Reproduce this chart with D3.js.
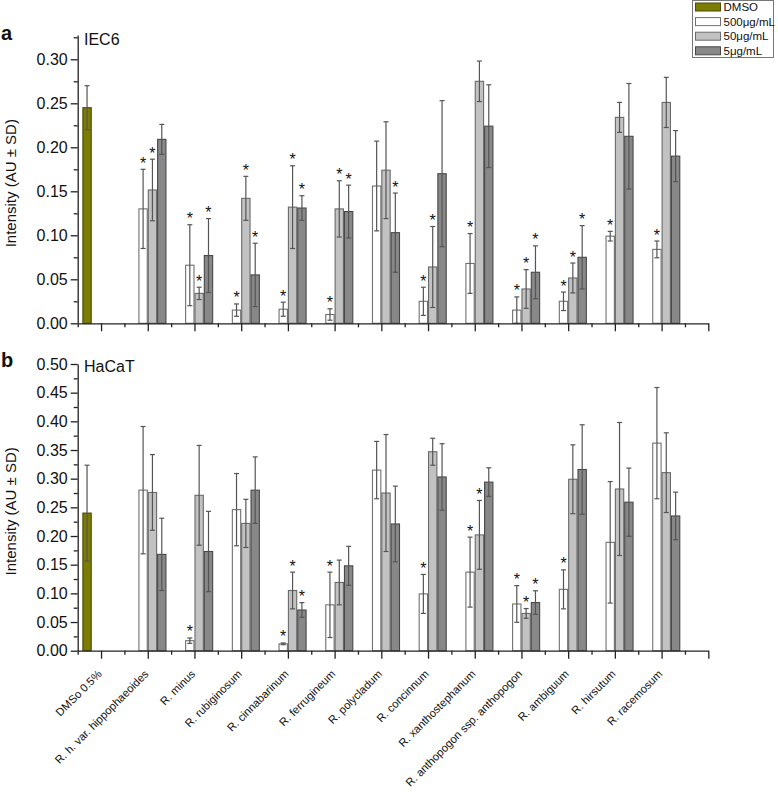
<!DOCTYPE html>
<html><head><meta charset="utf-8">
<script src="https://cdn.jsdelivr.net/npm/d3@7/dist/d3.min.js"></script>
<style>
body{margin:0;background:#fff}
svg{display:block}
text{font-family:"Liberation Sans",Arial,sans-serif;fill:#111}
</style>
</head><body>
<svg id="chart" width="778" height="793"></svg>
<script>
// ---------- data ----------
const categories = ["DMSo 0.5%","R. h. var. hippophaeoides","R. minus","R. rubiginosum","R. cinnabarinum","R. ferrugineum","R. polycladum","R. concinnum","R. xanthostephanum","R. anthopogon ssp. anthopogon","R. ambiguum","R. hirsutum","R. racemosum"];
const seriesNames = ["DMSO","500μg/mL","50μg/mL","5μg/mL"];
const panelLetters = ["a","b"];
const panelTitles = ["IEC6","HaCaT"];
const yTitle = "Intensity (AU ± SD)";
const yTicksA = [0,0.05,0.10,0.15,0.20,0.25,0.30];
const yTicksB = [0,0.05,0.10,0.15,0.20,0.25,0.30,0.35,0.40,0.45,0.50];

// Panel a (IEC6): DMSO control, then species (categories 2..13)
const dmsoA = [0.245, 0.025];
const a500 = [0.130,0.066,0.015,0.016,0.010,0.156,0.025,0.068,0.015,0.025,0.099,0.084];
const a500sd = [0.045,0.046,0.007,0.008,0.0065,0.051,0.016,0.034,0.015,0.0105,0.0055,0.0095];
const a50 = [0.1515,0.034,0.142,0.132,0.130,0.174,0.064,0.275,0.039,0.0515,0.234,0.251];
const a50sd = [0.035,0.007,0.025,0.047,0.032,0.055,0.046,0.023,0.022,0.017,0.017,0.0285];
const a5 = [0.209,0.077,0.055,0.131,0.127,0.103,0.170,0.224,0.058,0.075,0.2125,0.190];
const a5sd = [0.017,0.042,0.036,0.014,0.030,0.045,0.083,0.047,0.030,0.036,0.060,0.029];
const a500star = [1,1,1,1,1,0,1,1,1,1,1,1];
const a50star = [1,1,1,1,1,0,1,0,1,1,0,0];
const a5star = [0,1,1,1,1,1,0,0,1,1,0,0];

// Panel b (HaCaT)
const dmsoB = [0.240, 0.0835];
const b500 = [0.280,0.0175,0.246,0.012,0.080,0.315,0.099,0.137,0.0815,0.107,0.189,0.362];
const b500sd = [0.111,0.0047,0.063,0.0015,0.057,0.050,0.034,0.061,0.032,0.034,0.106,0.097];
const b50 = [0.276,0.271,0.222,0.105,0.119,0.275,0.347,0.202,0.065,0.299,0.282,0.3105];
const b50sd = [0.066,0.087,0.042,0.032,0.039,0.102,0.0235,0.060,0.0085,0.060,0.116,0.0695];
const b5 = [0.168,0.173,0.280,0.071,0.148,0.221,0.303,0.294,0.084,0.316,0.259,0.235];
const b5sd = [0.063,0.070,0.058,0.0128,0.034,0.066,0.058,0.025,0.0205,0.078,0.0595,0.0415];
const b500star = [0,1,0,1,1,0,1,1,1,1,0,0];
const b50star = [0,0,0,1,0,0,0,1,1,0,0,0];
const b5star = [0,0,0,1,0,0,0,0,1,0,0,0];

// ---------- styles ----------
const fills = ["#7c7c04","#ffffff","#c2c2c2","#888888"];
const strokes = ["#4a4a00","#707070","#6a6a6a","#484848"];

const svg = d3.select("#chart");
const x = d3.scaleLinear().domain([0.5, 14]).range([77.7, 708.3]);
const bw = 0.2;

const panels = [
  {letter: panelLetters[0], title: panelTitles[0], ticks: yTicksA, yMax: 0.3275, y0: 323.3, y1: 35.1,
   dmso: dmsoA, vals: [a500,a50,a5], sds: [a500sd,a50sd,a5sd], stars: [a500star,a50star,a5star],
   letterY: 40, titleY: 45, labels: false},
  {letter: panelLetters[1], title: panelTitles[1], ticks: yTicksB, yMax: 0.5, y0: 650.7, y1: 364,
   dmso: dmsoB, vals: [b500,b50,b5], sds: [b500sd,b50sd,b5sd], stars: [b500star,b50star,b5star],
   letterY: 367, titleY: 372, labels: true}
];

panels.forEach(p => {
  const y = d3.scaleLinear().domain([0, p.yMax]).range([p.y0, p.y1]);
  const g = svg.append("g");

  const bars = [];
  bars.push({pos: 1, s: 0, v: p.dmso[0], sd: p.dmso[1], star: 0});
  for (let k = 0; k < 12; k++) {
    for (let j = 0; j < 3; j++) {
      bars.push({pos: k + 2, s: j + 1, v: p.vals[j][k], sd: p.sds[j][k], star: p.stars[j][k]});
    }
  }
  const left = d => x(d.pos + (d.s - 2) * bw);
  const right = d => x(d.pos + (d.s - 1) * bw);
  const cx = d => (left(d) + right(d)) / 2;

  g.selectAll("rect.bar").data(bars).join("rect")
    .attr("class","bar")
    .attr("x", d => left(d) + 0.5)
    .attr("width", d => right(d) - left(d) - 1)
    .attr("y", d => y(d.v))
    .attr("height", d => y(0) - y(d.v))
    .attr("fill", d => fills[d.s])
    .attr("stroke", d => strokes[d.s])
    .attr("stroke-width", 1.1);

  const eg = g.selectAll("g.err").data(bars).join("g").attr("class","err")
    .attr("stroke", "#555").attr("stroke-width", 1.2);
  eg.append("line").attr("x1", cx).attr("x2", cx)
    .attr("y1", d => y(d.v + d.sd)).attr("y2", d => y(Math.max(0, d.v - d.sd)));
  eg.append("line").attr("x1", d => cx(d) - 2.5).attr("x2", d => cx(d) + 2.5)
    .attr("y1", d => y(d.v + d.sd)).attr("y2", d => y(d.v + d.sd));
  eg.append("line").attr("x1", d => cx(d) - 2.5).attr("x2", d => cx(d) + 2.5)
    .attr("y1", d => y(Math.max(0, d.v - d.sd))).attr("y2", d => y(Math.max(0, d.v - d.sd)));

  g.selectAll("text.star").data(bars.filter(d => d.star)).join("text")
    .attr("class","star")
    .attr("x", cx).attr("y", d => y(d.v + d.sd) - 0.5)
    .attr("text-anchor","middle")
    .style("font-size","16px")
    .text("*");

  const minorY = d3.range(0.025, p.yMax, 0.05);
  const yAxis = g.append("g").attr("transform", `translate(${x(0.5)},0)`)
    .call(d3.axisLeft(y).tickValues(p.ticks).tickSize(7).tickSizeOuter(0).tickPadding(3).tickFormat(d3.format(".2f")));
  yAxis.selectAll("text").style("font-size","16px").attr("fill","#111");
  g.append("g").attr("transform", `translate(${x(0.5)},0)`)
    .call(d3.axisLeft(y).tickValues(minorY).tickSize(4).tickSizeOuter(0).tickFormat(""))
    .select(".domain").remove();

  g.append("g").attr("transform", `translate(0,${p.y0})`)
    .call(d3.axisBottom(x).tickValues(d3.range(1, 15)).tickSize(8).tickSizeOuter(0).tickFormat(""));
  g.append("g").attr("transform", `translate(0,${p.y0})`)
    .call(d3.axisBottom(x).tickValues(d3.range(0.5, 14, 1)).tickSize(4).tickSizeOuter(0).tickFormat(""))
    .select(".domain").remove();

  g.selectAll(".domain, .tick line").attr("stroke","#222").attr("stroke-width",1.3);

  g.append("text")
    .attr("transform", `translate(16,${(p.y0 + p.y1) / 2 + 4}) rotate(-90)`)
    .attr("text-anchor","middle").style("font-size","15px").text(yTitle);

  g.append("text").attr("x", 1).attr("y", p.letterY).style("font-size","20px").style("font-weight","bold").text(p.letter);
  g.append("text").attr("x", 84).attr("y", p.titleY).style("font-size","16px").text(p.title);

  if (p.labels) {
    g.selectAll("text.cat").data(categories).join("text")
      .attr("class","cat")
      .attr("transform", (d, i) => `translate(${x(i + 1) + 1.5},${p.y0 + 24}) rotate(-45)`)
      .attr("text-anchor","end")
      .style("font-size","11.2px")
      .text(d => d);
  }
});

// legend
const lg = svg.append("g");
lg.append("rect").attr("x", 692.5).attr("y", 0.5).attr("width", 81).attr("height", 57)
  .attr("fill","#fff").attr("stroke","#777").attr("stroke-width",1);
seriesNames.forEach((n, i) => {
  const cy = 7 + i * 14.6;
  lg.append("rect").attr("x", 695.5).attr("y", cy - 4).attr("width", 25).attr("height", 8)
    .attr("fill", fills[i]).attr("stroke", strokes[i]).attr("stroke-width", 1);
  lg.append("text").attr("x", 723.5).attr("y", cy + 4.2).style("font-size","11.5px").text(n);
});
</script>
</body></html>
